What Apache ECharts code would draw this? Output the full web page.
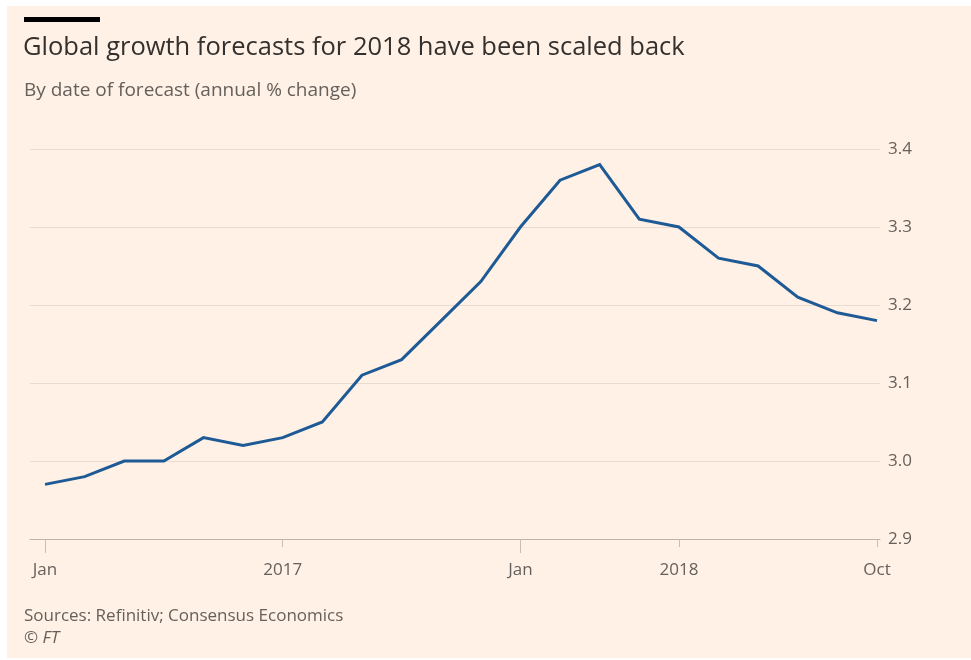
<!DOCTYPE html>
<html>
<head>
<meta charset="utf-8">
<script src="https://cdn.jsdelivr.net/npm/echarts@6/dist/echarts.min.js"></script>
<style>
  html, body { margin: 0; padding: 0; background: #ffffff; }
  #panel { position: absolute; left: 7px; top: 6px; width: 964px; height: 652px; background: #fff1e5; }
  #chart { position: absolute; left: 0; top: 0; width: 971px; height: 660px; }
</style>
</head>
<body>
<div id="panel"></div>
<div id="chart"></div>
<script>
// Monthly forecast dates, Jan 2017 to Oct 2018
const months = [
  'Jan 2017', 'Feb 2017', 'Mar 2017', 'Apr 2017', 'May 2017', 'Jun 2017',
  'Jul 2017', 'Aug 2017', 'Sep 2017', 'Oct 2017', 'Nov 2017', 'Dec 2017',
  'Jan 2018', 'Feb 2018', 'Mar 2018', 'Apr 2018', 'May 2018', 'Jun 2018',
  'Jul 2018', 'Aug 2018', 'Sep 2018', 'Oct 2018'
];
// Consensus forecast of 2018 global growth (annual % change)
const forecast = [
  2.97, 2.98, 3.00, 3.00, 3.03, 3.02, 3.03, 3.05, 3.11, 3.13, 3.18, 3.23,
  3.30, 3.36, 3.38, 3.31, 3.30, 3.26, 3.25, 3.21, 3.19, 3.18
];
// Which month positions carry an x-axis label, and what they read
const xLabelIndex = [0, 6, 12, 16, 21];
const xLabelText = ['Jan', '2017', 'Jan', '2018', 'Oct'];
// Longer ticks mark the start of each year
const yearStartIndex = [0, 12];
// Value axis range
const yMin = 2.9, yMax = 3.4, yStep = 0.1;

const FONT = '"Open Sans", "Noto Sans", sans-serif';
const GREY = '#66605c';

const chart = echarts.init(document.getElementById('chart'));
chart.setOption({
  animation: false,
  textStyle: { fontFamily: FONT },
  graphic: [
    { type: 'rect', left: 24, top: 17, shape: { width: 76, height: 5 }, style: { fill: '#000000' } },
    { type: 'text', left: 23, top: 35,
      style: { text: 'Global growth forecasts for 2018 have been scaled back', fill: '#33302e',
               font: '25.5px ' + FONT } },
    { type: 'text', left: 24, top: 81,
      style: { text: 'By date of forecast (annual % change)', fill: GREY, font: '19px ' + FONT } },
    { type: 'text', left: 24, top: 608,
      style: { text: 'Sources: Refinitiv; Consensus Economics', fill: GREY, font: '17px ' + FONT } },
    { type: 'text', left: 24, top: 630,
      style: { text: '© {i|FT}', fill: GREY, font: '17px ' + FONT,
               rich: { i: { fontStyle: 'italic', fontSize: 17, fontFamily: FONT, fill: GREY } } } }
  ],
  grid: [
    // data area: first and last month sit on the edges
    { left: 45, right: 94, top: 149, bottom: 121 },
    // wider frame for the horizontal rules and the value labels
    { left: 30, right: 91, top: 149, bottom: 121 }
  ],
  xAxis: [
    {
      type: 'category', gridIndex: 0, data: months, boundaryGap: false,
      axisLine: { show: false },
      axisTick: { show: true, length: 8, lineStyle: { color: '#c9bdb3', width: 1 } },
      axisLabel: {
        margin: 23, color: GREY, fontSize: 17, fontFamily: FONT,
        interval: (i) => xLabelIndex.includes(i),
        formatter: (v, i) => { const k = xLabelIndex.indexOf(i); return k >= 0 ? xLabelText[k] : ''; }
      }
    },
    {
      type: 'category', gridIndex: 0, data: months, boundaryGap: false, position: 'bottom',
      axisLine: { show: false },
      axisTick: { show: true, length: 14, interval: (i) => yearStartIndex.includes(i),
                  lineStyle: { color: '#c9bdb3', width: 1 } },
      axisLabel: { show: false }
    },
    {
      type: 'value', gridIndex: 1, min: 0, max: 1,
      axisLine: { show: true, lineStyle: { color: '#bfb3a9', width: 1 } },
      axisTick: { show: false }, axisLabel: { show: false }, splitLine: { show: false }
    }
  ],
  yAxis: [
    {
      type: 'value', gridIndex: 0, min: yMin, max: yMax, interval: yStep,
      axisLine: { show: false }, axisTick: { show: false }, axisLabel: { show: false },
      splitLine: { show: false }
    },
    {
      type: 'value', gridIndex: 1, position: 'right', min: yMin, max: yMax, interval: yStep,
      axisLine: { show: false }, axisTick: { show: false },
      axisLabel: { margin: 8, color: GREY, fontSize: 17, fontFamily: FONT,
                   formatter: (v) => v.toFixed(1) },
      splitLine: { show: true, lineStyle: { color: '#e8dbd0', width: 1 } }
    }
  ],
  series: [
    {
      type: 'line', xAxisIndex: 0, yAxisIndex: 0, data: forecast,
      showSymbol: false, symbol: 'none',
      lineStyle: { color: '#1d5a96', width: 3, join: 'miter' }
    }
  ]
});
</script>
</body>
</html>
